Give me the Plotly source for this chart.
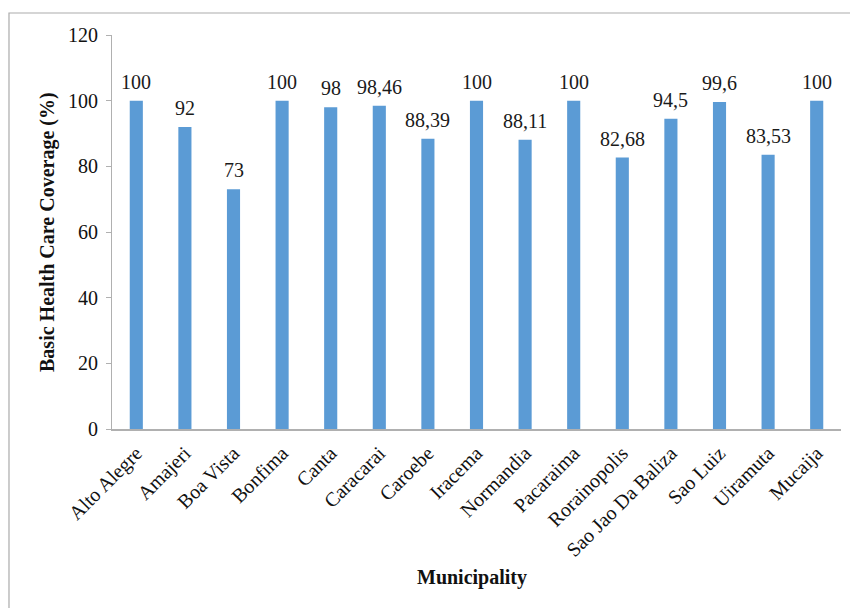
import plotly.graph_objects as go

municipalities = ["Alto Alegre", "Amajeri", "Boa Vista", "Bonfima", "Canta", "Caracarai",
                  "Caroebe", "Iracema", "Normandia", "Pacaraima", "Rorainopolis",
                  "Sao Jao Da Baliza", "Sao Luiz", "Uiramuta", "Mucaija"]
coverage = [100, 92, 73, 100, 98, 98.46, 88.39, 100, 88.11, 100, 82.68, 94.5, 99.6, 83.53, 100]

y_ticks = [0, 20, 40, 60, 80, 100, 120]

FONT = "Liberation Serif"
labels = [f"{v:g}".replace(".", ",") for v in coverage]

fig = go.Figure(go.Bar(
    x=municipalities, y=coverage,
    marker=dict(color="#5B9BD5", line=dict(width=0)),
    width=0.27,
))

for m, v, t in zip(municipalities, coverage, labels):
    fig.add_annotation(x=m, y=v, text=t, showarrow=False, yanchor="bottom",
                       yshift=6, font=dict(family=FONT, size=20, color="#1a1a1a"))

# axis titles
fig.add_annotation(xref="paper", yref="paper", x=0.4945, y=-0.378,
                   text="<b>Municipality</b>", showarrow=False,
                   xanchor="center", yanchor="middle",
                   font=dict(family=FONT, size=20, color="#111"))
fig.add_annotation(xref="paper", yref="paper", x=-0.0892, y=0.5,
                   text="<b>Basic Health Care Coverage (%)</b>", showarrow=False,
                   textangle=-90, xanchor="center", yanchor="middle",
                   font=dict(family=FONT, size=20, color="#111"))

# outer chart frame
fig.add_shape(type="rect", xref="paper", yref="paper",
              x0=-0.1413, x1=1.2, y0=-1.0, y1=1.0558,
              line=dict(color="#ababab", width=1.2), fillcolor="rgba(0,0,0,0)")

fig.update_layout(
    width=850, height=608,
    margin=dict(l=112, r=9, t=35, b=179),
    plot_bgcolor="white", paper_bgcolor="white",
    showlegend=False,
    font=dict(family=FONT, color="#111"),
    xaxis=dict(
        tickangle=-45, tickfont=dict(size=20, family=FONT, color="#111"),
        showline=True, linecolor="#b0b0b0", linewidth=1.5,
        ticks="", showgrid=False, ticklabelstandoff=3,
    ),
    yaxis=dict(
        range=[0, 120], tickvals=y_ticks, tickfont=dict(size=20, family=FONT, color="#111"),
        showline=True, linecolor="#b0b0b0", linewidth=1,
        ticks="outside", ticklen=5, tickcolor="#b0b0b0",
        showgrid=False, zeroline=False, ticklabelstandoff=4,
    ),
)

fig.write_html("out.html")
